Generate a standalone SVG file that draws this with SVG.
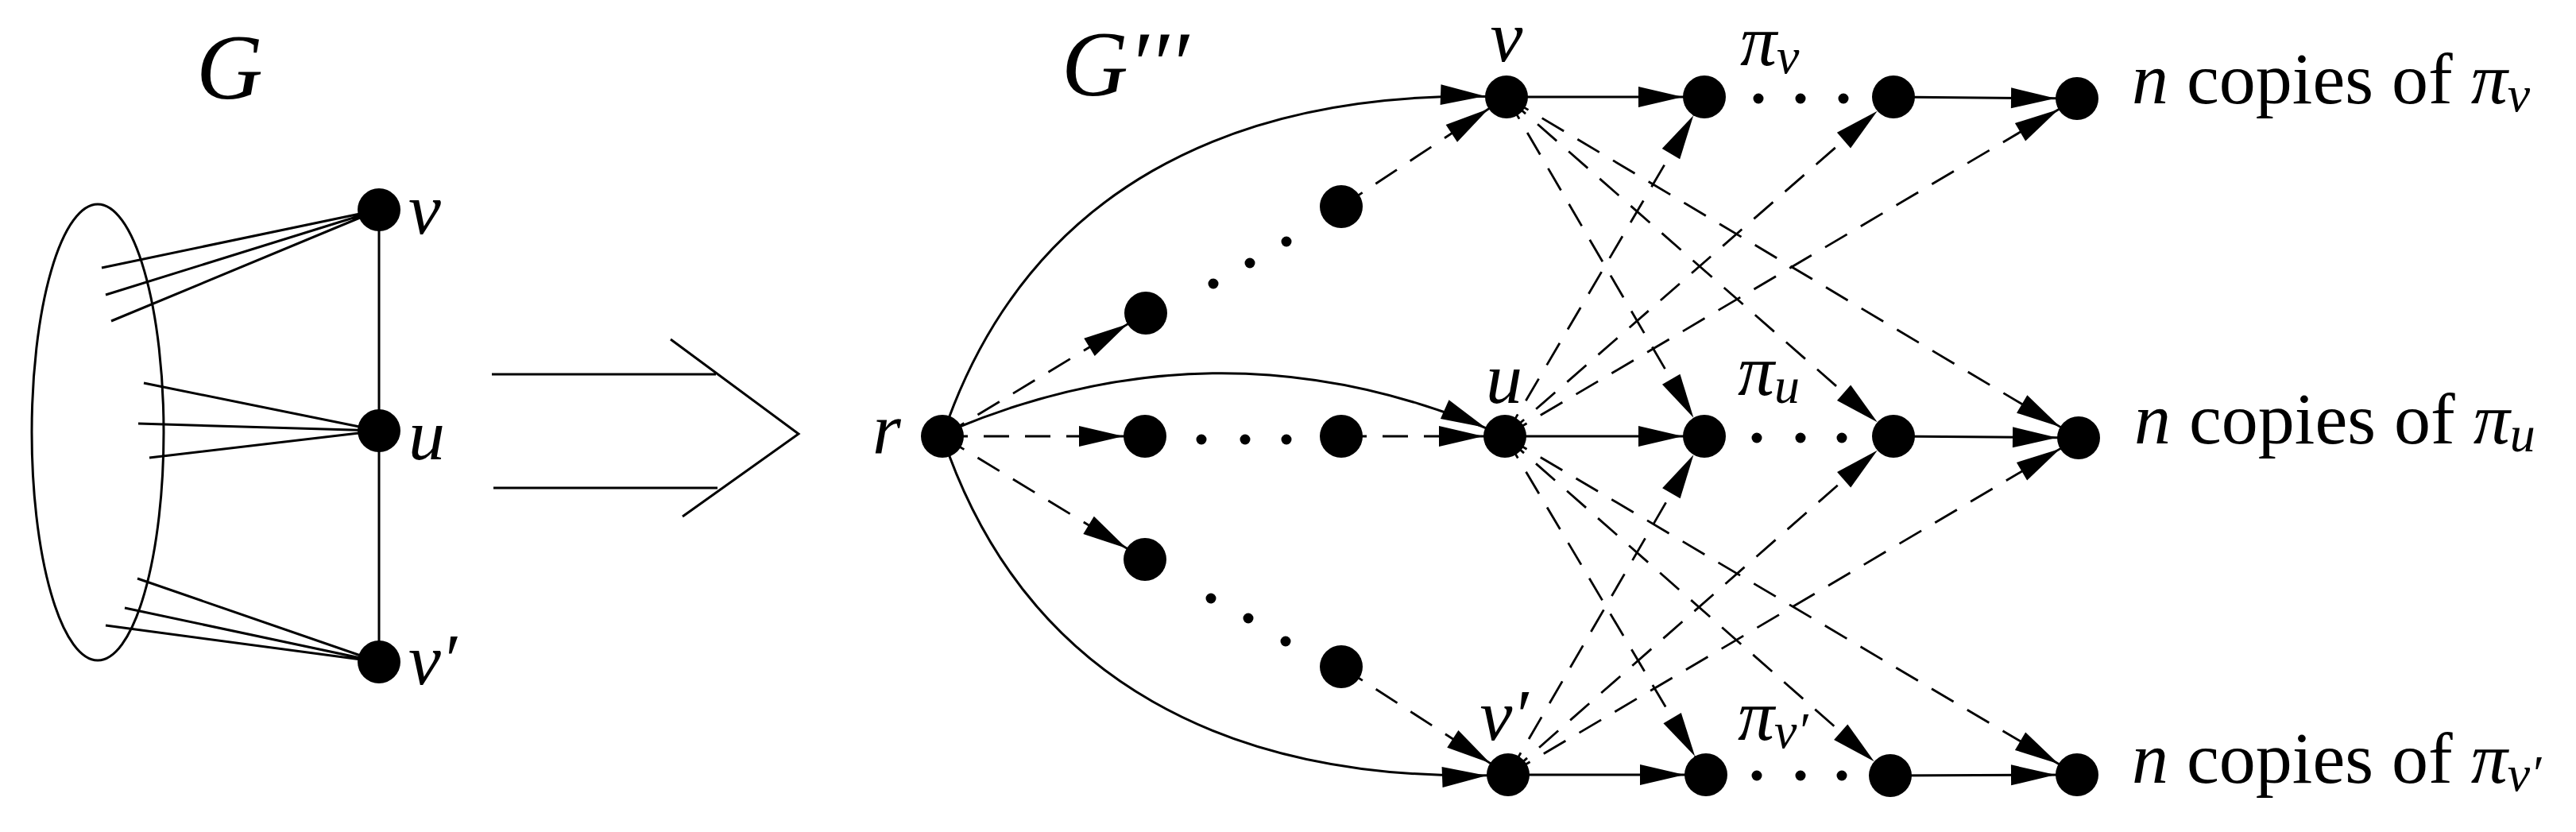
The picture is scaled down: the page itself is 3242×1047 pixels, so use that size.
<svg xmlns="http://www.w3.org/2000/svg" width="3242" height="1047" viewBox="0 0 3242 1047">
<style>
.e{fill:none;stroke:#000;stroke-width:3}
.d{fill:none;stroke:#000;stroke-width:2.8;stroke-dasharray:32 20}
.a{marker-end:url(#ah)}
.n{fill:#000}
.t{font-family:"Liberation Serif",serif;font-size:92px;fill:#000}
.i{font-style:italic}
</style>
<defs>
<marker id="ah" markerUnits="userSpaceOnUse" markerWidth="100" markerHeight="40" refX="83" refY="13" orient="auto" overflow="visible">
<path d="M0,0 L56,13 L0,26 z" fill="#000"/>
</marker>
</defs>
<g id="left-graph">
<ellipse cx="123" cy="544" rx="83" ry="287" class="e"/>
<path class="e" d="M128,337 L477,264 M133,371 L477,264 M140,404 L477,264 M181,482 L477,542 M174,533 L477,542 M188,576 L477,542 M173,728 L477,833 M157,765 L477,833 M133,787 L477,833 M477,264 L477,833"/>
</g>
<g id="big-arrow">
<path class="e" d="M619,471 L901,471 M621,614 L903,614 M844,427 L1005,546 L859,650"/>
</g>
<g id="connectors">
<path class="e a" d="M1186,549 C1290,240 1550,110 1896,122"/>
<path class="e a" d="M1186,549 C1290,858 1550,988 1898,975"/>
<path class="e a" d="M1200,540 Q1549,395 1894,549"/>
<path class="e a" d="M1896,122 L2145,122"/>
<path class="e a" d="M1894,549 L2145,549"/>
<path class="e a" d="M1898,975 L2147,975"/>
<path class="e a" d="M2383,122 L2614,124"/>
<path class="e a" d="M2383,549 L2616,551"/>
<path class="e a" d="M2379,976 L2614,975"/>
<path class="d a" d="M1186,549 L1442,394"/>
<path class="d a" d="M1186,549 L1441,549"/>
<path class="d a" d="M1186,549 L1441,704"/>
<path class="d a" d="M1688,260 L1896,122"/>
<path class="d a" d="M1688,549 L1894,549"/>
<path class="d a" d="M1688,839 L1898,975"/>
<path class="d a" d="M1896,122 L2145,549"/>
<path class="d a" d="M1896,122 L2383,549"/>
<path class="d a" d="M1896,122 L2616,551"/>
<path class="d a" d="M1898,975 L2145,549"/>
<path class="d a" d="M1898,975 L2383,549"/>
<path class="d a" d="M1898,975 L2616,551"/>
<path class="d a" d="M1894,549 L2145,122"/>
<path class="d a" d="M1894,549 L2383,122"/>
<path class="d a" d="M1894,549 L2614,124"/>
<path class="d a" d="M1894,549 L2147,975"/>
<path class="d a" d="M1894,549 L2379,976"/>
<path class="d a" d="M1894,549 L2614,975"/>
</g>
<g id="dots" class="n">
<circle cx="1527" cy="357" r="6.5"/><circle cx="1573" cy="331" r="6.5"/><circle cx="1619" cy="304" r="6.5"/>
<circle cx="1512" cy="553" r="6.5"/><circle cx="1567" cy="553" r="6.5"/><circle cx="1619" cy="553" r="6.5"/>
<circle cx="1524" cy="753" r="6.5"/><circle cx="1571" cy="778" r="6.5"/><circle cx="1618" cy="807" r="6.5"/>
<circle cx="2213" cy="124" r="6.5"/><circle cx="2266" cy="124" r="6.5"/><circle cx="2320" cy="124" r="6.5"/>
<circle cx="2211" cy="551" r="6.5"/><circle cx="2266" cy="551" r="6.5"/><circle cx="2318" cy="551" r="6.5"/>
<circle cx="2211" cy="976" r="6.5"/><circle cx="2266" cy="976" r="6.5"/><circle cx="2318" cy="976" r="6.5"/>
</g>
<g id="node-Gv" class="n"><circle cx="477" cy="264" r="27"/></g>
<g id="node-Gu" class="n"><circle cx="477" cy="542" r="27"/></g>
<g id="node-Gvp" class="n"><circle cx="477" cy="833" r="27"/></g>
<g id="node-r" class="n"><circle cx="1186" cy="549" r="27"/></g>
<g id="node-t1" class="n"><circle cx="1442" cy="394" r="27"/></g>
<g id="node-t2" class="n"><circle cx="1688" cy="260" r="27"/></g>
<g id="node-m1" class="n"><circle cx="1441" cy="549" r="27"/></g>
<g id="node-m2" class="n"><circle cx="1688" cy="549" r="27"/></g>
<g id="node-b1" class="n"><circle cx="1441" cy="704" r="27"/></g>
<g id="node-b2" class="n"><circle cx="1688" cy="839" r="27"/></g>
<g id="node-v" class="n"><circle cx="1896" cy="122" r="27"/></g>
<g id="node-u" class="n"><circle cx="1894" cy="549" r="27"/></g>
<g id="node-vp" class="n"><circle cx="1898" cy="975" r="27"/></g>
<g id="node-pv1" class="n"><circle cx="2145" cy="122" r="27"/></g>
<g id="node-pv2" class="n"><circle cx="2383" cy="122" r="27"/></g>
<g id="node-pv3" class="n"><circle cx="2614" cy="124" r="27"/></g>
<g id="node-pu1" class="n"><circle cx="2145" cy="549" r="27"/></g>
<g id="node-pu2" class="n"><circle cx="2383" cy="549" r="27"/></g>
<g id="node-pu3" class="n"><circle cx="2616" cy="551" r="27"/></g>
<g id="node-pw1" class="n"><circle cx="2147" cy="975" r="27"/></g>
<g id="node-pw2" class="n"><circle cx="2379" cy="976" r="27"/></g>
<g id="node-pw3" class="n"><circle cx="2614" cy="975" r="27"/></g>
<g id="labels" class="t">
<text x="289" y="124" class="i" font-size="116" text-anchor="middle">G</text>
<text x="1416" y="120" class="i" font-size="116" text-anchor="middle">G′′′</text>
<text x="514" y="294" class="i">v</text>
<text x="514" y="578" class="i">u</text>
<text x="514" y="861" class="i">v′</text>
<text x="1098" y="570" class="i">r</text>
<text x="1896" y="77" class="i" text-anchor="middle">v</text>
<text x="1893" y="507" class="i" text-anchor="middle">u</text>
<text x="1893" y="931" class="i" text-anchor="middle">v′</text>
<text x="2190" y="82" class="i">π<tspan font-size="64" dy="10">v</tspan></text>
<text x="2187" y="497" class="i">π<tspan font-size="64" dy="10">u</tspan></text>
<text x="2187" y="931" class="i">π<tspan font-size="64" dy="10">v′</tspan></text>
<text x="2683" y="130"><tspan class="i">n</tspan> copies of <tspan class="i">π</tspan><tspan class="i" font-size="64" dy="10">v</tspan></text>
<text x="2686" y="558"><tspan class="i">n</tspan> copies of <tspan class="i">π</tspan><tspan class="i" font-size="64" dy="10">u</tspan></text>
<text x="2683" y="985"><tspan class="i">n</tspan> copies of <tspan class="i">π</tspan><tspan class="i" font-size="64" dy="10">v′</tspan></text>
</g>
</svg>
